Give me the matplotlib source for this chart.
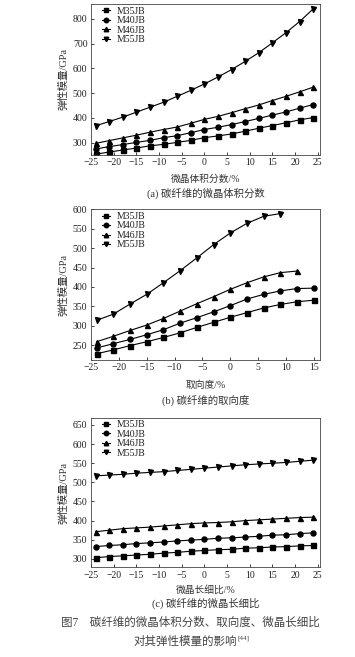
import matplotlib
matplotlib.use("Agg")
import matplotlib.pyplot as plt

plt.rcParams['font.family'] = ['Liberation Serif', 'Noto Sans CJK SC', 'DejaVu Sans']
plt.rcParams['axes.unicode_minus'] = True

labels = ['M35JB', 'M40JB', 'M46JB', 'M55JB']
markers = ['s', 'o', '^', 'v']

# (a) crystallite volume fraction
x_a = [-24, -21, -18, -15, -12, -9, -6, -3, 0, 3, 6, 9, 12, 15, 18, 21, 24]
a_m35 = [253, 262, 270, 278, 287, 293, 301, 309, 320, 327, 335, 346, 358, 369, 380, 392, 401]
a_m40 = [274, 284, 292, 301, 309, 320, 328, 340, 353, 362, 373, 385, 398, 411, 424, 439, 454]
a_m46 = [297, 308, 319, 330, 342, 353, 363, 378, 394, 406, 421, 437, 452, 470, 487, 505, 524]
a_m55 = [368, 385, 403, 423, 443, 463, 487, 511, 537, 565, 595, 628, 663, 703, 744, 789, 840]

# (b) orientation degree
x_b = [-24, -21, -18, -15, -12, -9, -6, -3, 0, 3, 6, 9, 12, 15]
b_m35 = [228, 238, 249, 259, 270, 282, 296, 309, 322, 334, 346, 355, 362, 366]
b_m40 = [243, 254, 265, 277, 290, 307, 321, 336, 352, 369, 381, 390, 396, 397]
b_m46 = [259, 273, 288, 302, 319, 338, 357, 375, 394, 411, 426, 437, 441]
b_m55 = [314, 330, 356, 381, 411, 442, 475, 509, 539, 564, 582, 589]

# (c) crystallite aspect ratio
x_c = x_a
c_m35 = [303, 306, 308, 310, 312, 315, 317, 320, 322, 324, 325, 328, 329, 331, 332, 334, 335]
c_m40 = [332, 335, 337, 340, 342, 344, 347, 349, 351, 354, 355, 357, 359, 362, 363, 366, 368]
c_m46 = [371, 375, 379, 381, 383, 386, 389, 392, 394, 395, 397, 400, 402, 404, 406, 408, 409]
c_m55 = [517, 519, 521, 524, 526, 528, 531, 534, 537, 540, 543, 546, 548, 550, 552, 555, 558]

fig = plt.figure(figsize=(3.55, 6.57), dpi=100)

W = 355.0
H = 657.0
left = 91 / W
width = (319.5 - 91) / W


def make_axes(top_px, bottom_px):
    return fig.add_axes([left, 1 - bottom_px / H, width, (bottom_px - top_px) / H])


def style(ax, xlim, ylim, xticks, yticks):
    ax.set_xlim(*xlim)
    ax.set_ylim(*ylim)
    ax.set_xticks(xticks)
    ax.set_yticks(yticks)
    ax.tick_params(direction='in', length=2.5, width=0.6, labelsize=7, pad=2.5,
                   top=False, right=False, colors='#222222')
    for s in ax.spines.values():
        s.set_linewidth(0.6)
        s.set_color('#444444')
    ax.set_ylabel('弹性模量/GPa', fontsize=7.5, labelpad=3, color='#333333')
    leg = ax.legend(loc='upper left', bbox_to_anchor=(0.04, 0.995), frameon=False,
                    fontsize=7, handlelength=0.8, labelspacing=0.05, handletextpad=0.7,
                    borderaxespad=0, borderpad=0.2, markerscale=0.9)
    for t in leg.get_texts():
        t.set_color('#222222')


def draw(ax, x, series):
    for ys, lab, mk in zip(series, labels, markers):
        ax.plot(x[:len(ys)], ys, color='black', lw=0.8, marker=mk, ms=3.6,
                mfc='black', mec='black', label=lab)


ax_a = make_axes(4, 155)
draw(ax_a, x_a, [a_m35, a_m40, a_m46, a_m55])
style(ax_a, (-25, 25.4), (250, 860), range(-25, 26, 5), range(300, 801, 100))

ax_b = make_axes(209.3, 360)
draw(ax_b, x_b, [b_m35, b_m40, b_m46, b_m55])
style(ax_b, (-25, 16), (212, 600), range(-25, 16, 5), range(250, 601, 50))

ax_c = make_axes(417.7, 567.3)
draw(ax_c, x_c, [c_m35, c_m40, c_m46, c_m55])
style(ax_c, (-25, 25.4), (278, 669), range(-25, 26, 5), range(300, 651, 50))

cx = 206 / W
txt = '#333333'
fig.text(cx, 1 - 179 / H, '微晶体积分数/%', ha='center', va='center', fontsize=7, color=txt)
fig.text(cx, 1 - 193 / H, '(a) 碳纤维的微晶体积分数', ha='center', va='center', fontsize=7.5, color=txt)
fig.text(cx, 1 - 385.7 / H, '取向度/%', ha='center', va='center', fontsize=7, color=txt)
fig.text(cx, 1 - 400 / H, '(b) 碳纤维的取向度', ha='center', va='center', fontsize=7.5, color=txt)
fig.text(cx, 1 - 590 / H, '微晶长细比/%', ha='center', va='center', fontsize=7, color=txt)
fig.text(cx, 1 - 603.3 / H, '(c) 碳纤维的微晶长细比', ha='center', va='center', fontsize=7.5, color=txt)

cap = '#444444'
fig.text(190 / W, 1 - 622.7 / H, '图7　碳纤维的微晶体积分数、取向度、微晶长细比',
         ha='center', va='center', fontsize=8.3, color=cap)
fig.text(237 / W, 1 - 642 / H, '对其弹性模量的影响',
         ha='right', va='center', fontsize=8.3, color=cap)
fig.text(238 / W, 1 - 638 / H, '[44]',
         ha='left', va='center', fontsize=5, color=cap)

fig.savefig('out.png', dpi=100)
